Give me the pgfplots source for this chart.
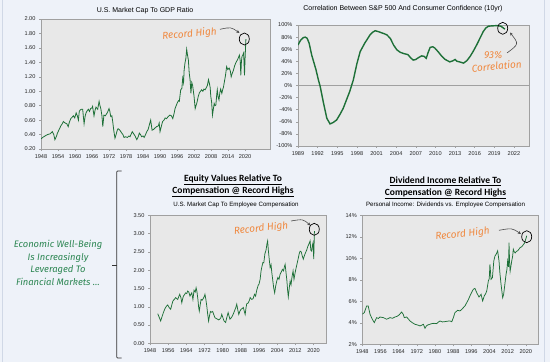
\documentclass[border=0pt]{standalone}
\usepackage{pgfplots}
\pgfplotsset{compat=1.18}
\usepackage{pgfplotstable}
\usepackage{fontspec}
\setmainfont{Liberation Sans}
\newfontfamily\hand{Fira Sans}
\newfontfamily\carlito{Carlito}
\usetikzlibrary{arrows.meta}
\definecolor{bg}{RGB}{238,242,249}
\definecolor{plotbg}{RGB}{232,232,232}
\definecolor{axgray}{RGB}{160,160,160}
\definecolor{lgreen}{RGB}{30,112,56}
\definecolor{tgreen}{RGB}{46,135,84}
\definecolor{orng}{RGB}{240,136,62}
\definecolor{edge}{RGB}{208,216,230}

\pgfplotstableread{
x y
1948.0 0.34
1948.6 0.36
1949.4 0.38
1950.3 0.40
1951.2 0.41
1952.0 0.44
1952.5 0.40
1952.9 0.33
1953.4 0.37
1953.8 0.42
1954.4 0.47
1955.0 0.52
1955.5 0.55
1955.9 0.58
1956.5 0.56
1957.1 0.55
1957.6 0.51
1958.0 0.57
1958.5 0.62
1959.0 0.64
1959.4 0.66
1959.9 0.63
1960.4 0.70
1960.8 0.66
1961.2 0.60
1961.5 0.72
1961.8 0.74
1962.3 0.75
1962.7 0.75
1963.2 0.55
1963.6 0.66
1963.9 0.70
1964.3 0.73
1964.7 0.75
1965.1 0.72
1965.5 0.76
1966.0 0.77
1966.2 0.79
1966.7 0.66
1967.1 0.74
1967.4 0.78
1968.0 0.75
1968.5 0.86
1968.8 0.80
1969.1 0.76
1969.5 0.66
1969.8 0.51
1970.2 0.67
1970.7 0.66
1971.2 0.69
1971.6 0.72
1972.0 0.76
1972.3 0.72
1972.6 0.65
1973.0 0.66
1973.3 0.58
1973.7 0.45
1974.1 0.35
1974.5 0.40
1974.9 0.46
1975.2 0.48
1975.6 0.47
1976.0 0.45
1976.5 0.42
1976.9 0.40
1977.3 0.36
1977.8 0.37
1978.5 0.36
1979.0 0.38
1979.4 0.37
1980.2 0.44
1980.7 0.41
1981.2 0.38
1981.8 0.33
1982.3 0.37
1982.7 0.42
1983.1 0.40
1983.5 0.37
1984.0 0.38
1984.4 0.36
1984.9 0.40
1985.3 0.44
1985.8 0.47
1986.2 0.53
1986.7 0.60
1987.2 0.46
1987.7 0.47
1988.2 0.49
1988.8 0.51
1989.4 0.52
1989.7 0.56
1990.0 0.44
1990.5 0.52
1990.9 0.58
1991.4 0.60
1991.8 0.63
1992.3 0.62
1992.9 0.65
1993.5 0.67
1994.0 0.66
1994.5 0.62
1995.0 0.70
1995.3 0.76
1995.7 0.80
1996.1 0.84
1996.5 0.87
1996.8 0.86
1997.3 1.02
1997.7 1.04
1998.0 1.18
1998.3 1.12
1998.5 1.29
1998.8 1.39
1999.1 1.45
1999.4 1.58
1999.7 1.50
2000.0 1.43
2000.3 1.25
2000.6 1.16
2000.9 0.97
2001.2 1.12
2001.5 1.08
2002.0 0.93
2002.4 0.76
2002.7 0.80
2003.0 0.84
2003.5 0.93
2003.9 0.98
2004.3 1.00
2004.7 1.02
2005.1 1.00
2005.5 1.03
2005.9 1.02
2006.2 1.04
2006.7 1.08
2007.1 1.16
2007.4 1.11
2007.7 1.05
2007.9 0.93
2008.2 0.85
2008.5 0.67
2008.8 0.75
2009.1 0.83
2009.4 0.80
2009.7 0.81
2010.0 0.95
2010.2 1.02
2010.5 0.92
2010.8 0.88
2011.1 0.98
2011.4 1.03
2011.8 0.97
2012.1 1.02
2012.4 1.06
2012.7 1.13
2013.1 1.22
2013.5 1.34
2013.9 1.30
2014.4 1.32
2014.8 1.28
2015.1 1.20
2015.5 1.25
2015.9 1.29
2016.3 1.35
2016.7 1.39
2017.1 1.42
2017.4 1.44
2017.7 1.47
2018.0 1.50
2018.3 1.42
2018.5 1.22
2018.7 1.40
2018.9 1.48
2019.2 1.50
2019.5 1.53
2019.8 1.22
2020.0 1.45
2020.3 1.72
}\mcgdp

\pgfplotstableread{
x y
1989.0 67
1989.4 75
1989.8 79
1990.1 80
1990.4 78
1990.7 70
1991.1 50
1991.4 39
1991.75 26
1992.1 10
1992.4 -2
1992.9 -29
1993.4 -54
1993.9 -63.5
1994.4 -61
1994.9 -57
1995.4 -48
1995.9 -38
1996.4 -24
1996.9 -10
1997.45 9
1998.0 36
1998.5 56
1999.2 70
2000.0 83.5
2000.4 88
2000.8 90.5
2001.3 89
2001.8 87
2002.2 85.5
2002.6 83.5
2003.1 78
2003.6 67
2004.1 59
2004.6 55
2005.1 53
2005.8 51
2006.2 46
2006.6 42
2007.0 43
2007.4 46
2007.9 49
2008.3 48
2008.6 45
2008.9 55
2009.2 63
2009.6 64
2009.9 62
2010.4 56
2011.0 48
2011.5 43
2012.2 39
2012.7 41
2013.0 43
2013.3 40
2013.7 39
2014.3 37
2014.8 41
2015.3 48
2015.8 57
2016.3 67
2016.8 78
2017.3 89
2017.7 95
2018.1 98
2018.6 98.5
2019.4 99
2020.0 98
2020.4 95
2020.6 93
}\corr

\pgfplotstableread{
x y
1951.4 0.81
1952.0 0.72
1952.7 0.61
1953.3 0.73
1953.9 0.84
1954.6 0.95
1955.3 1.02
1955.8 1.05
1956.4 0.98
1957.1 0.93
1957.6 1.05
1958.1 1.16
1958.7 1.20
1959.3 1.25
1960.2 1.20
1960.7 1.28
1961.1 1.34
1961.6 1.25
1962.0 1.11
1962.4 1.22
1962.7 1.29
1963.2 1.33
1963.7 1.38
1964.2 1.36
1964.6 1.43
1965.1 1.40
1965.6 1.29
1966.0 1.34
1966.4 1.38
1966.9 1.20
1967.4 1.45
1967.9 1.40
1968.3 1.52
1968.7 1.40
1969.1 1.20
1969.4 1.00
1969.7 0.88
1970.1 1.05
1970.5 1.20
1971.0 1.18
1971.5 1.23
1971.9 1.28
1972.2 1.34
1972.6 1.20
1973.0 1.02
1973.4 0.80
1973.8 0.61
1974.2 0.75
1974.6 0.87
1975.1 0.85
1975.6 0.87
1976.1 0.78
1976.6 0.70
1977.1 0.68
1977.7 0.66
1978.2 0.64
1978.7 0.66
1979.2 0.70
1979.6 0.79
1980.1 0.70
1980.6 0.61
1981.3 0.57
1981.8 0.70
1982.4 0.84
1982.8 0.75
1983.2 0.66
1983.8 0.70
1984.3 0.75
1984.8 0.82
1985.3 0.90
1985.8 0.98
1986.2 1.07
1986.7 0.90
1987.1 0.79
1987.6 0.88
1988.1 0.93
1988.6 0.95
1989.1 0.98
1989.5 0.88
1989.9 0.79
1990.3 0.98
1990.6 1.08
1991.2 1.10
1991.8 1.18
1992.1 1.25
1992.8 1.20
1993.4 1.22
1994.0 1.34
1994.5 1.29
1995.0 1.45
1995.6 1.58
1996.0 1.62
1996.5 1.75
1996.9 1.98
1997.3 2.10
1997.7 2.21
1998.1 2.20
1998.6 2.45
1999.1 2.55
1999.5 2.72
1999.8 2.80
2000.1 2.55
2000.5 2.30
2000.9 2.07
2001.3 2.15
2001.7 1.90
2002.1 1.70
2002.5 1.50
2002.9 1.38
2003.3 1.55
2003.8 1.70
2004.3 1.80
2004.8 1.75
2005.3 1.89
2005.8 1.95
2006.3 2.02
2006.8 1.98
2007.2 2.10
2007.5 2.16
2007.9 1.93
2008.3 1.70
2008.6 1.45
2008.9 1.27
2009.3 1.50
2009.7 1.70
2010.1 1.60
2010.5 1.80
2011.0 1.98
2011.4 1.75
2011.9 1.93
2012.3 2.05
2012.7 2.16
2013.2 2.30
2013.7 2.45
2014.1 2.52
2014.6 2.50
2015.0 2.40
2015.5 2.30
2016.0 2.40
2016.5 2.48
2017.0 2.55
2017.5 2.65
2018.0 2.72
2018.5 2.80
2018.8 2.55
2019.2 2.52
2019.5 2.68
2019.8 2.75
2020.1 2.30
2020.4 3.07
}\mccomp

\pgfplotstableread{
x y
1948.0 4.80
1948.9 4.95
1949.9 5.57
1950.6 5.57
1951.4 4.80
1952.4 4.33
1953.3 4.02
1954.3 4.48
1955.1 4.40
1955.8 4.54
1957.3 4.48
1958.7 4.33
1960.2 4.48
1961.3 4.42
1962.4 4.54
1963.3 4.60
1964.2 4.73
1965.3 5.00
1966.0 4.80
1966.5 4.48
1967.5 4.54
1968.3 4.35
1969.0 4.17
1970.1 4.00
1971.2 3.86
1972.3 3.80
1973.4 3.71
1974.2 3.78
1974.9 3.86
1975.6 3.49
1976.2 3.70
1976.8 3.80
1977.6 3.85
1978.5 3.92
1979.6 3.95
1980.7 3.92
1981.4 4.05
1982.2 4.17
1983.3 4.08
1984.4 4.11
1985.5 4.15
1986.6 4.17
1987.4 4.10
1988.1 4.48
1988.8 4.95
1989.4 5.05
1990.0 5.16
1991.0 5.10
1991.8 5.25
1992.5 5.41
1993.3 5.60
1994.0 5.88
1994.7 6.15
1995.4 6.50
1996.2 6.85
1996.9 7.12
1997.6 7.20
1998.4 6.80
1999.0 6.55
1999.4 6.40
2000.3 6.65
2001.0 6.03
2001.7 6.50
2002.3 6.70
2002.8 6.96
2003.5 7.89
2003.9 8.10
2004.2 9.44
2004.7 8.05
2005.3 8.20
2005.9 9.75
2006.4 10.20
2007.0 10.40
2007.6 10.70
2008.2 9.75
2008.6 8.60
2009.1 7.58
2009.8 6.34
2010.2 6.60
2010.6 7.27
2011.3 8.50
2011.7 9.00
2012.0 9.75
2012.4 9.20
2012.6 11.46
2012.9 9.40
2013.1 8.80
2013.8 9.75
2014.2 10.20
2014.5 10.84
2014.9 10.60
2015.3 10.50
2015.9 10.65
2016.4 10.70
2017.0 10.85
2017.5 11.00
2018.0 11.05
2018.5 11.15
2019.0 11.30
2019.4 11.40
2020.0 11.80
2020.4 12.10
}\divcomp

\pgfplotsset{
  chart/.style={
    scale only axis, anchor=south west, enlargelimits=false,
    axis background/.style={fill=plotbg},
    axis line style={draw=axgray, line width=0.9pt},
    tick style={draw=axgray, line width=0.4pt},
    tick align=outside, major tick length=2pt,
    tick pos=left,
    tick label style={font=\fontsize{5.6}{6.5}\selectfont, text=black!85},
    /pgf/number format/assume math mode=true,
    /pgf/number format/1000 sep={},
  },
}

\begin{document}
\begin{tikzpicture}
\useasboundingbox (0,0) rectangle (550pt,362pt);
\fill[bg] (0,0) rectangle (550pt,362pt);
\draw[edge, line width=0.8pt] (2.7pt,0) -- (2.7pt,362pt);
\draw[edge, line width=0.8pt] (544pt,0) -- (544pt,362pt);

% Panel 1
\begin{axis}[chart, at={(41pt,213pt)}, width=229pt, height=130pt,
  xmin=1948, xmax=2028.8, ymin=0.2, ymax=2.0,
  xtick={1948,1954,1960,1966,1972,1978,1984,1990,1996,2002,2008,2014,2020},
  ytick={0.2,0.4,0.6,0.8,1.0,1.2,1.4,1.6,1.8,2.0},
  yticklabel style={/pgf/number format/.cd,fixed,fixed zerofill,precision=2},
]
\addplot[lgreen, line width=0.8pt] table {\mcgdp};
\end{axis}
\node[font=\fontsize{7}{8}\selectfont] at (145pt,351pt) {U.S. Market Cap To GDP Ratio};

% Panel 2
\begin{axis}[chart, at={(298pt,216pt)}, width=231pt, height=121pt,
  xmin=1989, xmax=2024.3, ymin=-100, ymax=100,
  xtick={1989,1992,1995,1998,2001,2004,2007,2010,2013,2016,2019,2022},
  ytick={-100,-80,-60,-40,-20,0,20,40,60,80,100},
  yticklabel={\pgfmathprintnumber{\tick}\%},
  extra y ticks={0}, extra y tick labels={},
  extra y tick style={grid=major, major grid style={draw=axgray, line width=0.7pt}},
]
\addplot[lgreen, line width=1.4pt] table {\corr};
\end{axis}
\node[font=\fontsize{7}{8}\selectfont] at (403pt,353pt) {Correlation Between S\&P 500 And Consumer Confidence (10yr)};

% Panel 3
\begin{axis}[chart, at={(150pt,18.7pt)}, width=176pt, height=128pt,
  xmin=1948, xmax=2025.5, ymin=0, ymax=3.5,
  xtick={1948,1956,1964,1972,1980,1988,1996,2004,2012,2020},
  ytick={0,0.5,1,1.5,2,2.5,3,3.5},
  yticklabel style={/pgf/number format/.cd,fixed,fixed zerofill,precision=2},
]
\addplot[lgreen, line width=0.75pt] table {\mccomp};
\end{axis}
\node[font=\carlito\bfseries\fontsize{9.5}{11}\selectfont] at (233pt,182.5pt) {\underline{Equity Values Relative To}};
\node[font=\carlito\bfseries\fontsize{9.5}{11}\selectfont] at (233pt,170pt) {\underline{Compensation @ Record Highs}};
\node[font=\fontsize{6.2}{7}\selectfont] at (236pt,157pt) {U.S. Market Cap To Employee Compensation};

% Panel 4
\begin{axis}[chart, at={(362.3pt,17.7pt)}, width=176pt, height=129pt,
  xmin=1948, xmax=2025.5, ymin=2, ymax=14,
  xtick={1948,1956,1964,1972,1980,1988,1996,2004,2012,2020},
  ytick={2,4,6,8,10,12,14},
  yticklabel={\pgfmathprintnumber{\tick}\%},
]
\addplot[lgreen, line width=0.75pt] table {\divcomp};
\end{axis}
\node[font=\carlito\bfseries\fontsize{9.5}{11}\selectfont] at (445.5pt,181pt) {\underline{Dividend Income Relative To}};
\node[font=\carlito\bfseries\fontsize{9.5}{11}\selectfont] at (445.5pt,168.5pt) {\underline{Compensation @ Record Highs}};
\node[font=\fontsize{6.2}{7}\selectfont] at (445.5pt,157pt) {Personal Income: Dividends vs. Employee Compensation};

% Left text and bracket
\node[align=center, font=\hand\itshape\fontsize{9.4}{12.7}\selectfont, text=tgreen] at (58pt,99pt)
  {Economic Well-Being\\Is Increasingly\\Leveraged To\\Financial Markets \dots};
\draw[black!80, line width=0.7pt, rounded corners=1pt] (121.7pt,191pt) -- (116.7pt,191pt) -- (116.7pt,4pt) -- (121.7pt,4pt);
\draw[black!80, line width=0.7pt] (116.7pt,97pt) -- (112pt,97pt);

% Annotations
\tikzset{hw/.style={font=\hand\itshape\fontsize{10}{11}\selectfont, text=orng},
         ar/.style={-{Stealth[length=3.2pt,width=3pt]}, black!70, line width=0.6pt},
         cir/.style={black, line width=0.7pt}}
\node[hw, rotate=5] at (189.5pt,327.7pt) {Record High};
\draw[ar] (220pt,332.7pt) .. controls (231pt,335pt) .. (239.5pt,329pt);
\draw[cir] (244.3pt,323pt) ellipse [x radius=5pt, y radius=6pt];

\node[hw] at (493.3pt,307pt) {93\%};
\node[hw, rotate=5] at (496.7pt,296pt) {Correlation};
\draw[ar] (507pt,309pt) .. controls (519pt,318pt) .. (510pt,329.5pt);
\draw[cir] (502.7pt,333.7pt) ellipse [x radius=5pt, y radius=6pt];

\node[hw, rotate=6] at (261pt,133.3pt) {Record High};
\draw[ar] (291pt,141pt) .. controls (303pt,143pt) .. (310.5pt,136.5pt);
\draw[cir] (314.3pt,132.7pt) ellipse [x radius=5pt, y radius=6pt];

\node[hw, rotate=6] at (462.5pt,127.7pt) {Record High};
\draw[ar] (499pt,131.7pt) .. controls (512pt,134pt) .. (521pt,128pt);
\draw[cir] (526.7pt,125.3pt) ellipse [x radius=5pt, y radius=6pt];
\end{tikzpicture}
\end{document}
